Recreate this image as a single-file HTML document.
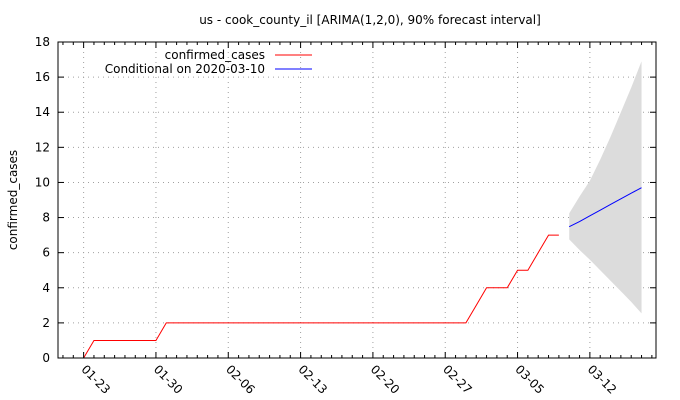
<!DOCTYPE html>
<html><head><meta charset="utf-8"><style>
body{margin:0;background:#fff}
svg{display:block;font-family:"DejaVu Sans","Liberation Sans",sans-serif}
</style></head><body>
<svg id="chart" width="680" height="400" viewBox="0 0 680 400">
<rect width="680" height="400" fill="#fff"/>
<text x="370" y="24" text-anchor="middle" font-size="12">us - cook_county_il [ARIMA(1,2,0), 90% forecast interval]</text>
<text transform="translate(17,200) rotate(-90)" text-anchor="middle" font-size="12">confirmed_cases</text>
<g id="grid"></g><g id="band"></g><g id="lines"></g><g id="axes"></g>
<g>
<text x="265" y="59" text-anchor="end" font-size="12">confirmed_cases</text>
<line x1="275" y1="55" x2="312" y2="55" stroke="#f00" stroke-width="1"/>
<text x="265" y="73" text-anchor="end" font-size="12">Conditional on 2020-03-10</text>
<line x1="275" y1="69" x2="312" y2="69" stroke="#00f" stroke-width="1"/>
</g>
</svg>
<script>
// day index relative to 2020-01-23
const obsDays = [0,1,2,3,4,5,6,7,8,9,10,11,12,13,14,15,16,17,18,19,20,21,22,23,24,25,26,27,28,29,30,31,32,33,34,35,36,37,38,39,40,41,42,43,44,45,46];
const obsValues = [0,1,1,1,1,1,1,1,2,2,2,2,2,2,2,2,2,2,2,2,2,2,2,2,2,2,2,2,2,2,2,2,2,2,2,2,2,2,3,4,4,4,5,5,6,7,7];
const fcDays = [47,48,49,50,51,52,53,54];
const fcMean = [7.48,7.77,8.10,8.42,8.75,9.07,9.39,9.70];
const fcUpper = [8.24,9.2,10.1,11.3,12.6,14.0,15.4,16.9];
const fcLower = [6.76,6.15,5.6,5.0,4.4,3.8,3.2,2.54];
const xTickDays = [0,7,14,21,28,35,42,49];
const xTickLabels = ["01-23","01-30","02-06","02-13","02-20","02-27","03-05","03-12"];
const yTicks = [0,2,4,6,8,10,12,14,16,18];

const L=58,R=656,T=42,B=358;
const dMin=-2.48,dMax=55.4,yMax=18;
const X=d=>L+(d-dMin)/(dMax-dMin)*(R-L);
const Y=v=>B-v/yMax*(B-T);
const NS='http://www.w3.org/2000/svg';
function mk(tag,attrs,parent){const e=document.createElementNS(NS,tag);for(const k in attrs)e.setAttribute(k,attrs[k]);parent.appendChild(e);return e;}
const grid=document.getElementById('grid'),band=document.getElementById('band'),lines=document.getElementById('lines'),axes=document.getElementById('axes');

yTicks.forEach(v=>{
  if(v>0&&v<18){const g=mk('line',{x1:L,x2:R,y1:Y(v),y2:Y(v),stroke:'#a0a0a0','stroke-width':1,'stroke-dasharray':'1,4'},grid);
  
  }
  const t1=mk('line',{x1:L,x2:L+6,y1:Y(v),y2:Y(v),stroke:'#000'},axes);
  
  
  const t2=mk('line',{x1:R-6,x2:R,y1:Y(v),y2:Y(v),stroke:'#000'},axes);
  
  
  const lb=mk('text',{x:L-8,y:Y(v)+4,'text-anchor':'end','font-size':12},axes);
  lb.textContent=v;
  
  
});
for(let d=Math.ceil(dMin);d<=dMax;d++){
  const major=xTickDays.includes(d);const len=major?6:3;
  const a=mk('line',{x1:X(d),x2:X(d),y1:B,y2:B-len,stroke:'#000'},axes);
  
  
  const b=mk('line',{x1:X(d),x2:X(d),y1:T,y2:T+len,stroke:'#000'},axes);
  
  
}
xTickDays.forEach((d,i)=>{
  const g=mk('line',{x1:X(d),x2:X(d),y1:T,y2:B,stroke:'#a0a0a0','stroke-width':1,'stroke-dasharray':'1,4'},grid);
  
  
  const x=X(d)-3,y=370;
  const lb=mk('text',{x:x,y:y,'font-size':12,transform:`rotate(45 ${x} ${y})`},axes);
  lb.textContent=xTickLabels[i];
  
  
});
const frame=mk('rect',{x:L,y:T,width:R-L,height:B-T,fill:'none',stroke:'#000','stroke-width':1},axes);



let bp=fcDays.map((d,i)=>X(d)+','+Y(fcUpper[i]));
bp=bp.concat(fcDays.map((d,i)=>X(d)+','+Y(fcLower[i])).reverse());
const poly=mk('polygon',{points:bp.join(' '),fill:'#dcdcdc',stroke:'none'},band);



const red=mk('polyline',{points:obsDays.map((d,i)=>X(d)+','+Y(obsValues[i])).join(' '),fill:'none',stroke:'#f00','stroke-width':1},lines);


const blue=mk('polyline',{points:fcDays.map((d,i)=>X(d)+','+Y(fcMean[i])).join(' '),fill:'none',stroke:'#00f','stroke-width':1},lines);


</script>
</body></html>
